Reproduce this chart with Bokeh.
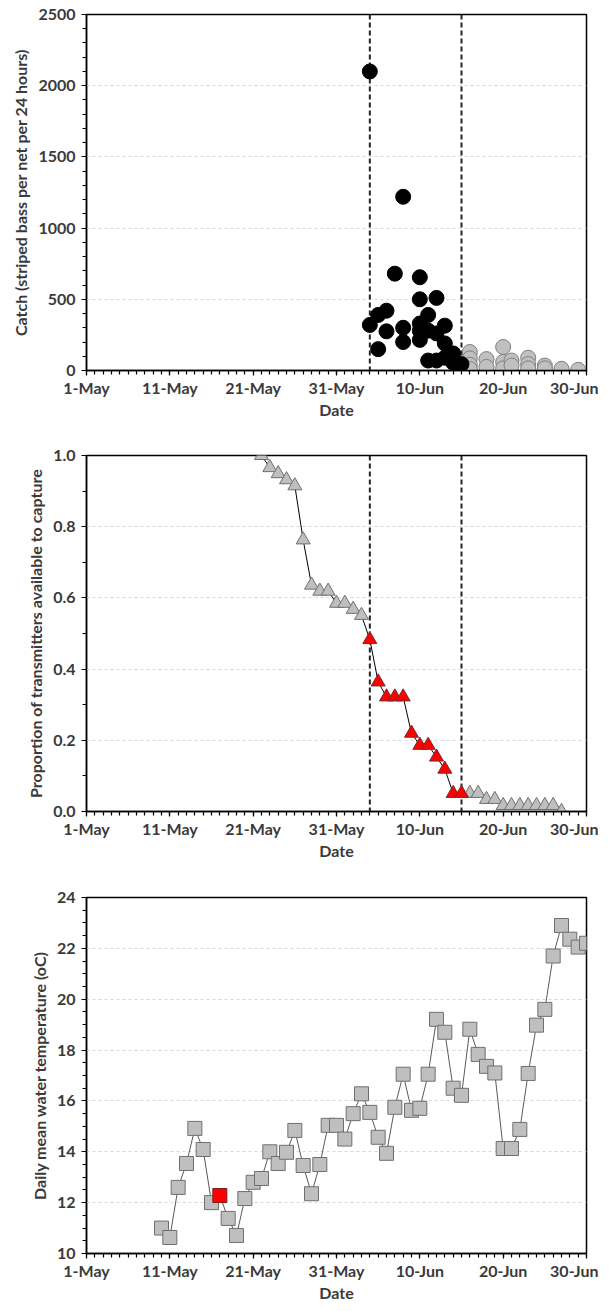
import pandas as pd
from bokeh.plotting import figure
from bokeh.layouts import column
from bokeh.models import Span, FixedTicker, NumeralTickFormatter, Range1d
from bokeh.embed import file_html
from bokeh.resources import INLINE

# ---------------- data ----------------
x_tick_labels = ["1-May", "11-May", "21-May", "31-May", "10-Jun", "20-Jun", "30-Jun"]
window_dates = ["4-Jun", "15-Jun"]

catch_in_dates = ["4-Jun", "4-Jun", "5-Jun", "5-Jun", "6-Jun", "6-Jun", "7-Jun",
                  "8-Jun", "8-Jun", "8-Jun",
                  "10-Jun", "10-Jun", "10-Jun", "10-Jun", "10-Jun",
                  "11-Jun", "11-Jun", "11-Jun", "12-Jun", "12-Jun", "12-Jun",
                  "13-Jun", "13-Jun", "13-Jun", "14-Jun", "14-Jun", "15-Jun"]
catch_in = [2100, 320, 390, 150, 420, 275, 680,
            1220, 300, 200,
            655, 500, 330, 280, 215,
            390, 280, 70, 510, 260, 70,
            315, 190, 90, 120, 55, 45]

catch_out_dates = ["16-Jun", "16-Jun", "16-Jun", "16-Jun", "18-Jun", "18-Jun",
                   "20-Jun", "20-Jun", "20-Jun", "21-Jun", "21-Jun",
                   "23-Jun", "23-Jun", "23-Jun", "25-Jun", "25-Jun", "27-Jun", "29-Jun"]
catch_out = [130, 85, 40, 10, 80, 25,
             165, 60, 15, 70, 35,
             90, 45, 15, 35, 15, 12, 5]

prop_start = "22-May"
prop_values = [1.0, 0.966, 0.949, 0.932, 0.915, 0.763, 0.636, 0.619, 0.619, 0.585,
               0.585, 0.568, 0.551, 0.483, 0.364, 0.322, 0.322, 0.322, 0.220, 0.186,
               0.186, 0.153, 0.119, 0.051, 0.051, 0.051, 0.051, 0.034, 0.034, 0.017,
               0.017, 0.017, 0.017, 0.017, 0.017, 0.017, 0.0]

temp_start = "10-May"
temp_values = [11.0, 10.63, 12.6, 13.54, 14.92, 14.09, 12.0, 12.28, 11.38, 10.71,
               12.16, 12.8, 12.95, 14.0, 13.54, 13.98, 14.84, 13.46, 12.35, 13.5,
               15.04, 15.04, 14.5, 15.5, 16.28, 15.55, 14.57, 13.94, 15.75, 17.05,
               15.63, 15.71, 17.05, 19.21, 18.7, 16.5, 16.22, 18.82, 17.83, 17.36,
               17.1, 14.13, 14.13, 14.88, 17.08, 18.98, 19.6, 21.7, 22.9, 22.36,
               22.05, 22.2]
temp_highlight = "17-May"

# ---------------- helpers ----------------
ORIGIN = pd.Timestamp("2000-05-01")


def day(s):
    return (pd.to_datetime(s + "-2000", format="%d-%b-%Y") - ORIGIN).days


x_major = [day(s) for s in x_tick_labels]
x_minor = list(range(x_major[0], x_major[-1] + 1))
FONT = "Lato"
TXT = "#3a3a3a"


def make_fig(ylo, yhi, ymaj, ymin, fmt, ylabel, top, bottom):
    p = figure(output_backend="svg", toolbar_location=None,
               frame_width=500, frame_height=356,
               x_range=Range1d(x_major[0], x_major[-1]), y_range=Range1d(ylo, yhi),
               min_border_left=86, min_border_right=12,
               min_border_top=top, min_border_bottom=bottom)
    p.background_fill_color = "white"
    p.border_fill_color = "white"
    p.outline_line_color = "black"
    p.outline_line_width = 1.5
    p.xgrid.visible = False
    p.ygrid.grid_line_color = "#d8d8d8"
    p.ygrid.grid_line_dash = "3 3"
    p.ygrid.grid_line_width = 1

    p.xaxis.ticker = FixedTicker(ticks=x_major, minor_ticks=x_minor)
    p.xaxis.major_label_overrides = {t: l for t, l in zip(x_major, x_tick_labels)}
    p.yaxis.ticker = FixedTicker(ticks=ymaj, minor_ticks=ymin)
    p.yaxis.formatter = NumeralTickFormatter(format=fmt)
    p.xaxis.axis_label = "Date"
    p.yaxis.axis_label = ylabel
    for ax in (p.xaxis, p.yaxis):
        ax.axis_line_color = "black"
        ax.axis_line_width = 1.5
        ax.major_tick_line_color = "black"
        ax.minor_tick_line_color = "black"
        ax.major_tick_line_width = 1.2
        ax.minor_tick_line_width = 1.2
        ax.major_tick_in = 0
        ax.minor_tick_in = 0
        ax.major_tick_out = 5
        ax.minor_tick_out = 4
        ax.major_label_text_font = FONT
        ax.major_label_text_font_style = "bold"
        ax.major_label_text_font_size = "16px"
        ax.major_label_text_color = TXT
        ax.axis_label_text_font = FONT
        ax.axis_label_text_font_style = "bold"
        ax.axis_label_text_font_size = "16px"
        ax.axis_label_text_color = TXT
    p.xaxis.major_label_standoff = 2
    p.xaxis.axis_label_standoff = 0
    p.yaxis.major_label_standoff = 6
    p.yaxis.axis_label_standoff = 5
    return p


def add_window(p):
    for d in window_dates:
        p.add_layout(Span(location=day(d), dimension="height", line_color="#222222",
                          line_dash="5 3", line_width=2, level="underlay"))


# ---------------- panel 1: catch ----------------
p1 = make_fig(0, 2500, list(range(0, 2501, 500)), list(range(0, 2501, 100)), "0",
              "Catch (striped bass per net per 24 hours)", 14, 56)
add_window(p1)
p1.scatter([day(s) for s in catch_out_dates], catch_out, marker="circle", size=15,
           fill_color="#c0c0c0", line_color="#7f7f7f", line_width=1)
p1.scatter([day(s) for s in catch_in_dates], catch_in, marker="circle", size=15,
           fill_color="black", line_color="black")

# ---------------- panel 2: proportion ----------------
p2 = make_fig(0, 1, [round(0.2 * i, 1) for i in range(6)], [round(0.1 * i, 1) for i in range(11)],
              "0.0", "Proportion of transmitters available to capture", 29, 56)
add_window(p2)
d0 = day(prop_start)
pdays = [d0 + i for i in range(len(prop_values))]
w0, w1 = day(window_dates[0]), day(window_dates[1])
p2.line(pdays, prop_values, line_color="black", line_width=1)
gx = [d for d in pdays if not (w0 <= d <= w1)]
gy = [v for d, v in zip(pdays, prop_values) if not (w0 <= d <= w1)]
rx = [d for d in pdays if w0 <= d <= w1]
ry = [v for d, v in zip(pdays, prop_values) if w0 <= d <= w1]
p2.scatter(gx, gy, marker="triangle", size=14, fill_color="#bfbfbf",
           line_color="#6f6f6f", line_width=1)
p2.scatter(rx, ry, marker="triangle", size=14, fill_color="#ff0000",
           line_color="#6f3030", line_width=1)

# ---------------- panel 3: temperature ----------------
p3 = make_fig(10, 24, list(range(10, 25, 2)), [10 + 0.5 * i for i in range(29)], "0",
              "Daily mean water temperature (oC)", 30, 56)
t0 = day(temp_start)
tdays = [t0 + i for i in range(len(temp_values))]
hd = day(temp_highlight)
p3.line(tdays, temp_values, line_color="#595959", line_width=1)
p3.scatter([d for d in tdays if d != hd], [v for d, v in zip(tdays, temp_values) if d != hd],
           marker="square", size=14, fill_color="#bfbfbf", line_color="#6f6f6f", line_width=1)
p3.scatter([hd], [temp_values[tdays.index(hd)]], marker="square", size=14,
           fill_color="#ff0000", line_color="#7a2020", line_width=1)

layout = column(p1, p2, p3, spacing=0)
open("out.html", "w").write(file_html(layout, INLINE))
